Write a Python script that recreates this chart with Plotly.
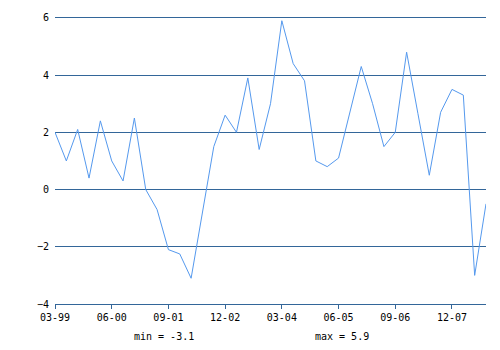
import plotly.graph_objects as go

values = [2.0, 1.0, 2.1, 0.4, 2.4, 1.0, 0.3, 2.5, 0.0, -0.7,
          -2.1, -2.25, -3.1, -0.8, 1.5, 2.6, 2.0, 3.9, 1.4, 3.0,
          5.9, 4.4, 3.8, 1.0, 0.8, 1.1, 2.7, 4.3, 3.0, 1.5,
          2.0, 4.8, 2.65, 0.5, 2.7, 3.5, 3.3, -3.0, -0.5]
x_idx = list(range(len(values)))
tick_positions = [0, 5, 10, 15, 20, 25, 30, 35]
tick_labels = ["03-99", "06-00", "09-01", "12-02", "03-04", "06-05", "09-06", "12-07"]
y_ticks = [-4, -2, 0, 2, 4, 6]

GRID = "#336699"
LINE = "#5599ee"
FONT = dict(family="DejaVu Sans Mono", size=10, color="#000000")

fig = go.Figure()
fig.add_trace(go.Scatter(x=x_idx, y=values, mode="lines",
                         line=dict(color=LINE, width=1), hoverinfo="skip"))

fig.update_layout(
    width=500, height=350,
    margin=dict(l=55, r=14, t=12, b=46),
    paper_bgcolor="white", plot_bgcolor="white",
    showlegend=False,
    font=FONT,
    xaxis=dict(range=[0, len(values) - 1], tickvals=tick_positions, ticktext=tick_labels,
               showgrid=False, zeroline=False, showline=True, linecolor=GRID, linewidth=1,
               ticks="outside", ticklen=4, tickcolor=GRID, tickfont=FONT),
    yaxis=dict(range=[-4, 6.1], tickvals=y_ticks, showgrid=True, gridcolor=GRID, gridwidth=1,
               zeroline=True, zerolinecolor=GRID, zerolinewidth=1, showline=False,
               ticks="", ticklabelstandoff=5, tickfont=FONT),
    annotations=[
        dict(text="min = -3.1", xref="paper", yref="paper", x=(164 - 55) / 431, y=(304 - 337) / 292,
             xanchor="center", yanchor="middle", showarrow=False, font=FONT),
        dict(text="max = 5.9", xref="paper", yref="paper", x=(341.5 - 55) / 431, y=(304 - 337) / 292,
             xanchor="center", yanchor="middle", showarrow=False, font=FONT),
    ],
)

fig.write_html("out.html")
